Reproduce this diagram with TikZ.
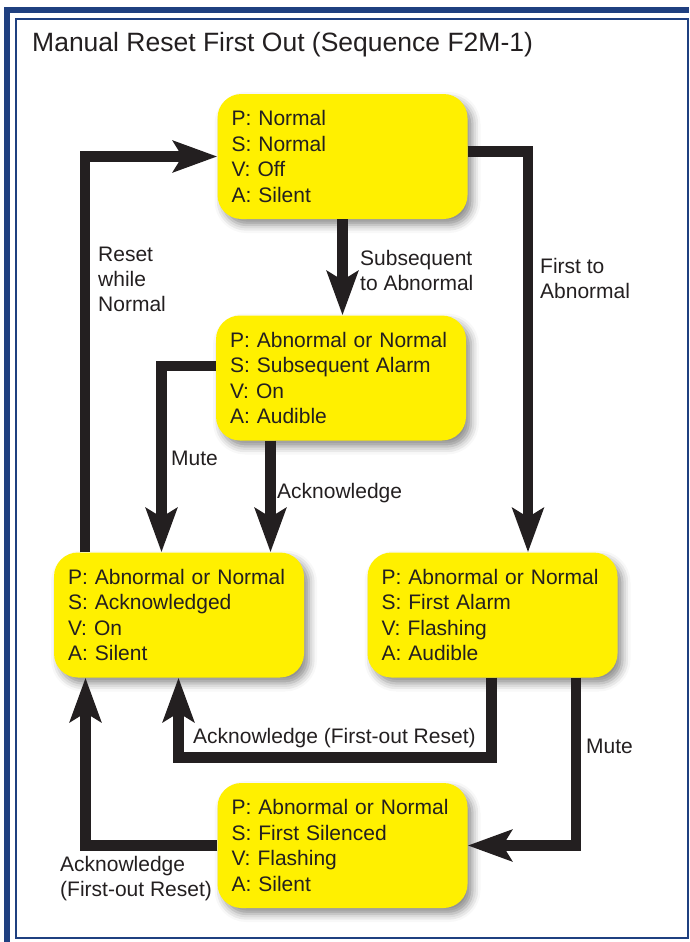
\documentclass[tikz,border=0pt]{standalone}
\usepackage{fontspec}
\setmainfont{Liberation Sans}
\usetikzlibrary{arrows.meta,shadows.blur}
\definecolor{framebl}{RGB}{31,64,128}
\definecolor{boxyel}{RGB}{255,240,0}
\definecolor{ink}{RGB}{35,31,32}

\begin{document}
\begin{tikzpicture}[x=1pt,y=-1pt,
  state/.style={fill=boxyel,rounded corners=24pt,minimum height=125pt,text width=222pt,
    inner xsep=14pt,align=left,text=ink,font=\fontsize{21}{25.5}\selectfont,
    blur shadow={shadow xshift=5pt,shadow yshift=-6pt,shadow blur radius=8pt,shadow opacity=45}},
  flow/.style={line width=10.5pt,draw=ink,-{Stealth[length=44pt,width=31pt,inset=9pt]}},
  lbl/.style={inner sep=0pt,align=left,anchor=west,text=ink,font=\fontsize{21}{25}\selectfont}]
\useasboundingbox (0,0) rectangle (689,942);

% frame
\fill[framebl] (4,7) rectangle (689,13);
\fill[framebl] (4,7) rectangle (9.5,942);
\draw[framebl,line width=2pt] (15.7,19.3) rectangle (687.7,937.7);

\node[anchor=base west,inner sep=0pt,text=ink,font=\fontsize{26.5}{30}\selectfont] (title) at (32,52)
  {Manual Reset First Out (Sequence F2M-1)};

% states
\foreach \nm/\px/\py/\txt in {
  normal/342.5/156.5/{P: Normal\\S: Normal\\V: Off\\A: Silent},
  subseq/341/378/{P: Abnormal or Normal\\S: Subsequent Alarm\\V: On\\A: Audible},
  acked/179/615/{P: Abnormal or Normal\\S: Acknowledged\\V: On\\A: Silent},
  first/492.5/615/{P: Abnormal or Normal\\S: First Alarm\\V: Flashing\\A: Audible},
  silenced/342.5/845.5/{P: Abnormal or Normal\\S: First Silenced\\V: Flashing\\A: Silent}}
{
  \node[state] (\nm) at (\px,\py) {\txt};
}

% transitions
\draw[flow] (acked.north -| 85,0) |- (normal.west);
\draw[flow] (normal.south) -- (normal.south |- subseq.north);
\draw[flow] ([yshift=5pt]normal.east) -| (first.north -| 528,0);
\draw[flow] ([yshift=12pt]subseq.west) -| (acked.north -| 161.5,0);
\draw[flow] (subseq.south -| 270.5,0) -- (acked.north -| 270.5,0);
\draw[flow] (first.south -| 491.5,0) |- (178.5,757.5) -- (acked.south -| 178.5,0);
\draw[flow] (first.south -| 576,0) |- (silenced.east);
\draw[flow] (silenced.west) -| (acked.south -| 85.5,0);

\node[lbl] (resetlbl) at (98,279) {Reset\\while\\Normal};
\node[lbl] (sublbl) at (360,270.5) {Subsequent\\to Abnormal};
\node[lbl] (firstlbl) at (540,278.5) {First to\\Abnormal};
\node[lbl] (mutelbl) at (171,458) {Mute};
\node[lbl] (acklbl) at (277,493) {Acknowledge};
\node[lbl] (fofflbl) at (193,738) {Acknowledge (First-out Reset)};
\node[lbl] (mutetwolbl) at (586,746) {Mute};
\node[lbl] (fofftwolbl) at (60,878.5) {Acknowledge\\(First-out Reset)};
\end{tikzpicture}
\end{document}
